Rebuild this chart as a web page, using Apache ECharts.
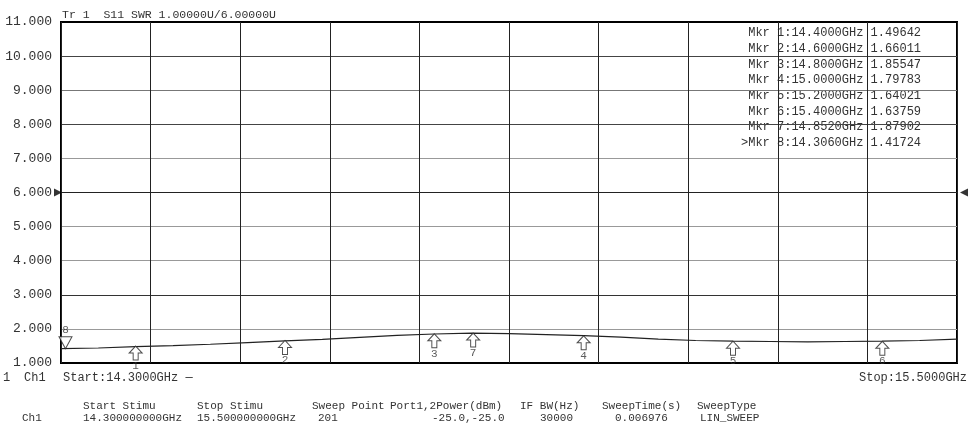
<!DOCTYPE html>
<html>
<head>
<meta charset="utf-8">
<script src="https://cdn.jsdelivr.net/npm/echarts@6/dist/echarts.min.js"></script>
<style>
  html, body { margin: 0; padding: 0; background: #fff; }
  #chart { width: 971px; height: 435px; }
</style>
</head>
<body>
<div id="chart"></div>
<script>
// trace (GHz / SWR)
var freqs = [14.30, 14.35, 14.40, 14.45, 14.50, 14.55, 14.60, 14.65, 14.70, 14.75, 14.80, 14.85,
             14.90, 14.95, 15.00, 15.05, 15.10, 15.15, 15.20, 15.25, 15.30, 15.35, 15.40, 15.45, 15.50];
var swr = [1.42, 1.44, 1.48, 1.51, 1.55, 1.60, 1.65, 1.69, 1.75, 1.81, 1.85, 1.875,
           1.86, 1.83, 1.80, 1.76, 1.70, 1.66, 1.64, 1.63, 1.62, 1.63, 1.64, 1.66, 1.70];

// markers 1..7 (arrow up), marker 8 (arrow down)
var mkrNames = ['1', '2', '3', '4', '5', '6', '7'];
var mkrFreqs = [14.40, 14.60, 14.80, 15.00, 15.20, 15.40, 14.852];
var mkrVals = [1.49642, 1.66011, 1.85547, 1.79783, 1.64021, 1.63759, 1.87902];
var mkr8 = [14.306, 1.41724];

var mkrTable = [
  ' Mkr 1:14.4000GHz 1.49642',
  ' Mkr 2:14.6000GHz 1.66011',
  ' Mkr 3:14.8000GHz 1.85547',
  ' Mkr 4:15.0000GHz 1.79783',
  ' Mkr 5:15.2000GHz 1.64021',
  ' Mkr 6:15.4000GHz 1.63759',
  ' Mkr 7:14.8520GHz 1.87902',
  '>Mkr 8:14.3060GHz 1.41724'
];

var bottomHead = ['Start Stimu', 'Stop Stimu', 'Sweep Point', 'Port1,2Power(dBm)', 'IF BW(Hz)', 'SweepTime(s)', 'SweepType'];
var bottomVals = ['14.300000000GHz', '15.500000000GHz', '201', '-25.0,-25.0', '30000', '0.006976', 'LIN_SWEEP'];
var headX = [83, 197, 312, 390, 520, 602, 697];
var valX = [83, 197, 318, 432, 540, 615, 700];

var myChart = echarts.init(document.getElementById('chart'));
var mono = 'Liberation Mono';

var traceData = freqs.map(function (f, i) { return [f, swr[i]]; });
var mkrData = mkrFreqs.map(function (f, i) { return { value: [f, mkrVals[i]], name: mkrNames[i] }; });

var gfx = [];
gfx.push({ type: 'text', left: 62, top: 9, style: { text: 'Tr 1  S11 SWR 1.00000U/6.00000U', font: '11.5px ' + mono, fill: '#333' } });
mkrTable.forEach(function (t, i) {
  gfx.push({ type: 'text', left: 741, top: 27 + i * 15.7, style: { text: t, font: '12px ' + mono, fill: '#333' } });
});
gfx.push({ type: 'text', left: 3, top: 372, style: { text: '1', font: '12px ' + mono, fill: '#333' } });
gfx.push({ type: 'text', left: 24, top: 372, style: { text: 'Ch1', font: '12px ' + mono, fill: '#333' } });
gfx.push({ type: 'text', left: 63, top: 372, style: { text: 'Start:14.3000GHz —', font: '12px ' + mono, fill: '#333' } });
gfx.push({ type: 'text', right: 4, top: 372, style: { text: 'Stop:15.5000GHz', font: '12px ' + mono, fill: '#333' } });
gfx.push({ type: 'text', left: 22, top: 413, style: { text: 'Ch1', font: '11px ' + mono, fill: '#333' } });
bottomHead.forEach(function (t, i) {
  gfx.push({ type: 'text', left: headX[i], top: 401, style: { text: t, font: '11px ' + mono, fill: '#333' } });
  gfx.push({ type: 'text', left: valX[i], top: 413, style: { text: bottomVals[i], font: '11px ' + mono, fill: '#333' } });
});

var option = {
  animation: false,
  backgroundColor: '#fff',
  grid: { left: 61, right: 14, top: 22, bottom: 72, show: true, borderColor: '#000', borderWidth: 2 },
  xAxis: [
    { type: 'value', min: 14.3, max: 15.5, show: false },
    {
      type: 'value', min: 0, max: 10, interval: 1, position: 'bottom',
      axisLine: { show: false }, axisTick: { show: false }, axisLabel: { show: false },
      splitLine: { show: true, lineStyle: { color: '#222', width: 1 } }
    }
  ],
  yAxis: {
    type: 'value', min: 1, max: 11, interval: 1,
    axisLine: { show: false }, axisTick: { show: false },
    axisLabel: { formatter: function (v) { return v.toFixed(3); }, fontFamily: mono, fontSize: 13, color: '#333', margin: 9 },
    splitLine: { show: true, lineStyle: { color: ['#000', '#999', '#333', '#999', '#999', '#222', '#999', '#444', '#777', '#444', '#000'], width: 1 } }
  },
  series: [
    {
      type: 'line', xAxisIndex: 0, data: traceData, showSymbol: false, symbol: 'none',
      lineStyle: { color: '#222', width: 1.2 }, z: 3
    },
    {
      type: 'scatter', xAxisIndex: 0, data: mkrData,
      symbol: 'path://M6.5,0 L13,7 L9,7 L9,14 L4,14 L4,7 L0,7 Z', symbolSize: [13, 14], symbolOffset: [0, 7],
      itemStyle: { color: '#fff', borderColor: '#222', borderWidth: 1 },
      label: { show: true, position: 'bottom', distance: 0, formatter: '{b}', fontFamily: mono, fontSize: 11, color: '#333' },
      z: 4
    },
    {
      type: 'scatter', xAxisIndex: 0, data: [{ value: mkr8, name: '8' }],
      symbol: 'path://M0,0 L13,0 L6.5,12 Z', symbolSize: [13, 12], symbolOffset: [0, -6],
      itemStyle: { color: '#fff', borderColor: '#222', borderWidth: 1 },
      label: { show: true, position: 'top', distance: 1, formatter: '{b}', fontFamily: mono, fontSize: 11, color: '#333' },
      z: 4
    },
    {
      type: 'scatter', xAxisIndex: 0, data: [[14.3, 6]], symbol: 'triangle', symbolRotate: -90,
      symbolSize: 8, symbolOffset: [-3, 0], itemStyle: { color: '#000' }, z: 5
    },
    {
      type: 'scatter', xAxisIndex: 0, data: [[15.5, 6]], symbol: 'triangle', symbolRotate: 90,
      symbolSize: 8, symbolOffset: [7, 0], itemStyle: { color: '#000' }, z: 5
    }
  ],
  graphic: gfx
};
myChart.setOption(option);
</script>
</body>
</html>
